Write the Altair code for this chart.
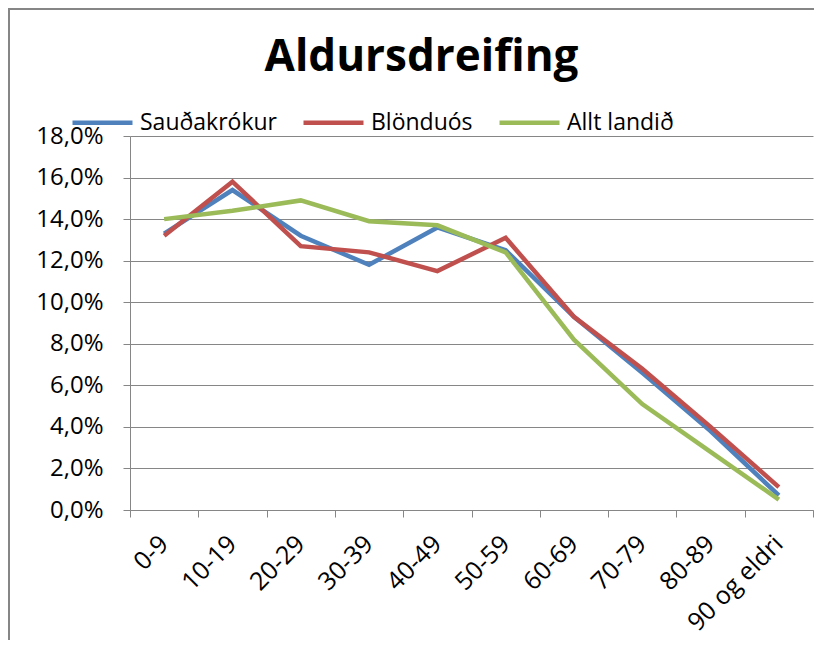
import altair as alt
import pandas as pd

categories = ["0-9", "10-19", "20-29", "30-39", "40-49", "50-59", "60-69", "70-79", "80-89", "90 og eldri"]
series_names = ["Sauðakrókur", "Blönduós", "Allt landið"]
saudarkrokur = [13.3, 15.4, 13.2, 11.8, 13.6, 12.5, 9.3, 6.6, 3.8, 0.7]
blonduos = [13.2, 15.8, 12.7, 12.4, 11.5, 13.1, 9.3, 6.8, 4.0, 1.1]
allt_landid = [14.0, 14.4, 14.9, 13.9, 13.7, 12.4, 8.2, 5.1, 2.8, 0.5]
colors = ["#4F81BD", "#C0504D", "#9BBB59"]
y_ticks = [0, 2, 4, 6, 8, 10, 12, 14, 16, 18]

rows = []
for name, vals in zip(series_names, [saudarkrokur, blonduos, allt_landid]):
    for i, (c, v) in enumerate(zip(categories, vals)):
        rows.append({"Aldur": c, "Hlutfall": v, "Svæði": name, "order": i})
df = pd.DataFrame(rows)

FONT = "Open Sans"

lines = alt.Chart(df).mark_line(strokeWidth=4.5, strokeJoin="miter").encode(
    x=alt.X("Aldur:N", sort=categories, bandPosition=0.5,
            scale=alt.Scale(type="band", paddingInner=0, paddingOuter=0),
            axis=alt.Axis(title=None, labelAngle=-45, labelAlign="right", labelBaseline="top",
                          tickBand="extent", tickSize=7, tickColor="#868686", domainColor="#868686",
                          labelFont=FONT, labelFontSize=25, labelColor="#000000", labelPadding=14,
                          labelOffset=-9, grid=False)),
    y=alt.Y("Hlutfall:Q", scale=alt.Scale(domain=[0, 18], nice=False),
            axis=alt.Axis(title=None, values=y_ticks, grid=True, gridColor="#868686",
                          tickSize=7, tickColor="#868686", domainColor="#868686",
                          labelExpr="replace(format(datum.value, '.1f'), '.', ',') + '%'",
                          labelFont=FONT, labelFontSize=24, labelColor="#000000", labelPadding=20)),
    color=alt.Color("Svæði:N", sort=series_names,
                    scale=alt.Scale(domain=series_names, range=colors),
                    legend=alt.Legend(title=None, orient="none", legendX=-60, legendY=-46,
                                      direction="horizontal", symbolType="stroke",
                                      symbolSize=3600, symbolStrokeWidth=4.5,
                                      labelFont=FONT, labelFontSize=23, labelColor="#000000",
                                      labelOffset=5, columnPadding=17)),
    order=alt.Order("order:Q"),
    detail="Svæði:N",
)

frame_left = alt.Chart(pd.DataFrame({"a": [0]})).mark_rule(color="#868686", strokeWidth=2).encode(
    x=alt.value(-121), y=alt.value(-128), y2=alt.value(512))
frame_top = alt.Chart(pd.DataFrame({"a": [0]})).mark_rule(color="#868686", strokeWidth=2).encode(
    x=alt.value(-121), x2=alt.value(690), y=alt.value(-127))

chart = alt.layer(frame_left, frame_top, lines).properties(
    width=683, height=374,
    autosize=alt.AutoSizeParams(type="none"),
    padding={"left": 122, "top": 128, "right": 1, "bottom": 130},
    title=alt.TitleParams("Aldursdreifing", font=FONT, fontSize=44, fontWeight="bold",
                          color="#000000", anchor="middle", dx=-50, dy=118, offset=10,
                          baseline="alphabetic"),
).configure_view(stroke=None)

chart.save("out.html", embed_options={"renderer": "svg", "actions": False})
